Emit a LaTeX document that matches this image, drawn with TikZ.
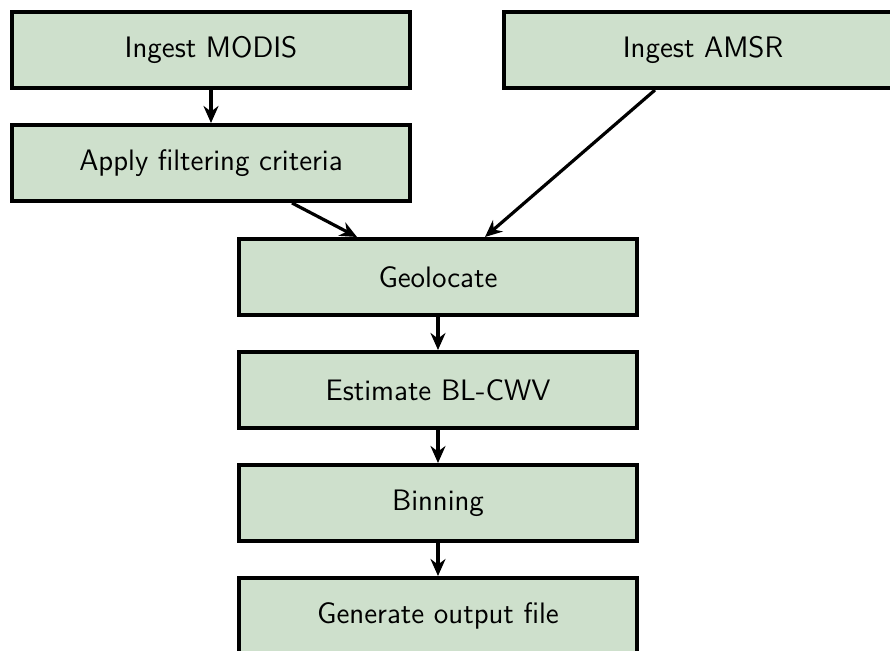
\documentclass[tikz,border=0pt]{standalone}
\usetikzlibrary{positioning,arrows.meta}
\definecolor{boxgreen}{RGB}{206,224,204}
\begin{document}
\begin{tikzpicture}[x=1pt,y=1pt,>={Stealth[length=8.5pt,width=7.5pt]},
  box/.style={draw,line width=2pt,fill=boxgreen,minimum width=199pt,
    minimum height=38pt,inner sep=0pt,font=\sffamily\fontsize{14.8}{18}\selectfont},
  arr/.style={->,line width=1.6pt}]
  \useasboundingbox (0,0) rectangle (445,-325.5);
  \node[box] (modis) at (105.5,-25) {Ingest MODIS};
  \node[box] (amsr) at (351.5,-25) {Ingest AMSR};
  \node[box,below=16.5pt of modis] (filter) {Apply filtering criteria};
  \node[box] (geo) at (219,-138.5) {Geolocate};
  \node[box,below=16.5pt of geo] (cwv) {Estimate BL-CWV};
  \node[box,below=16.5pt of cwv] (bin) {Binning};
  \node[box,below=16.5pt of bin] (out) {Generate output file};
  \draw[arr] (modis) -- (filter);
  \draw[arr] ([xshift=40.5pt]filter.south) -- ([xshift=-40.5pt]geo.north);
  \draw[arr] ([xshift=-24pt]amsr.south) -- ([xshift=23.5pt]geo.north);
  \draw[arr] (geo) -- (cwv);
  \draw[arr] (cwv) -- (bin);
  \draw[arr] (bin) -- (out);
\end{tikzpicture}
\end{document}
